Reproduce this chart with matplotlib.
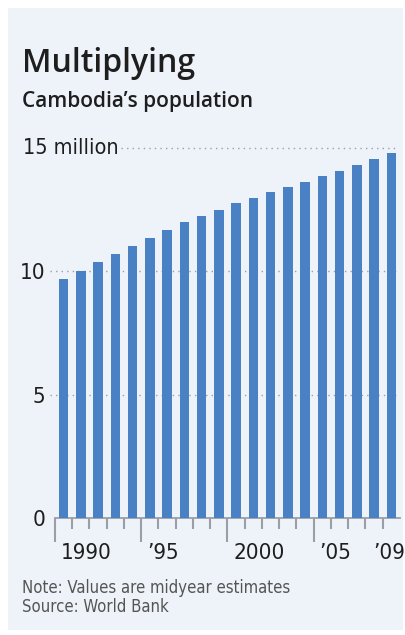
import matplotlib
matplotlib.use("Agg")
import matplotlib.pyplot as plt
from matplotlib.patches import Rectangle
from matplotlib.transforms import blended_transform_factory

# Cambodia's population, millions (midyear estimates)
years = list(range(1990, 2010))
population = [9.68, 10.03, 10.37, 10.70, 11.04, 11.37, 11.68, 11.99, 12.24, 12.50,
              12.76, 12.99, 13.22, 13.41, 13.63, 13.86, 14.08, 14.30, 14.54, 14.78]

y_ticks = [0, 5, 10]
y_ticklabels = ["0", "5", "10"]
x_labels = ["1990", "\u201995", "2000", "\u201905", "\u201909"]
x_label_years = [1990, 1995, 2000, 2005, 2009]

W, H = 406, 635
bg = "#eef3fa"
bar_color = "#4a80c4"
grid_color = "#9a9ea6"
text_color = "#1e1e1e"
narrow = dict(family=["DejaVu Sans"], stretch="condensed")
head = ["Open Sans", "DejaVu Sans"]


def fx(x):
    return x / W


def fy(y):
    return 1 - y / H


fig = plt.figure(figsize=(W / 100, H / 100), dpi=100)
fig.patch.set_facecolor("white")
fig.patches.append(Rectangle((fx(8), fy(630)), fx(395), (630 - 8) / H,
                             transform=fig.transFigure, facecolor=bg,
                             edgecolor="none", zorder=-5))

ax = fig.add_axes([fx(55), fy(518.3), fx(345), 370.3 / H])
ax.set_facecolor("none")
ax.bar(years, population, width=0.54, color=bar_color, zorder=3)
ax.set_xlim(1989.5, 2009.5)
ax.set_ylim(0, 15)

for s in ["top", "right", "left"]:
    ax.spines[s].set_visible(False)
ax.spines["bottom"].set_color(grid_color)
ax.spines["bottom"].set_linewidth(1.3)

# dotted gridlines
for v in [5, 10]:
    ax.axhline(v, xmin=-0.015, xmax=0.99, color=grid_color, lw=1.0,
               ls=(0, (1, 3)), zorder=1, clip_on=False)
ax.axhline(15, xmin=0.19, xmax=0.99, color=grid_color, lw=1.0,
           ls=(0, (1, 3)), zorder=1, clip_on=False)

ax.set_yticks(y_ticks)
ax.set_yticklabels(y_ticklabels, fontsize=16, color=text_color, **narrow)
ax.tick_params(axis="y", length=0, pad=7)
trans = blended_transform_factory(ax.transAxes, ax.transData)
ax.text(-0.093, 15, "15 million", transform=trans, ha="left", va="center",
        fontsize=15.5, color=text_color, **narrow)

# year-boundary ticks
major = [1989.5, 1994.5, 1999.5, 2004.5]
minor = [y + 0.5 for y in years[:-1] if y + 0.5 not in major]
ax.set_xticks(major)
ax.set_xticks(minor, minor=True)
ax.set_xticklabels([])
ax.tick_params(axis="x", which="major", length=17, width=1.5, color=grid_color)
ax.tick_params(axis="x", which="minor", length=8, width=1.5, color=grid_color)

for lab, yr in zip(x_labels, x_label_years):
    if yr == 2009:
        ax.text(yr - 0.15, -1.42, lab, ha="center", va="center",
                fontsize=16, color=text_color, **narrow)
    else:
        ax.text(yr - 0.5 + 0.33, -1.42, lab, ha="left", va="center",
                fontsize=16, color=text_color, **narrow)

fig.text(fx(22), fy(64), "Multiplying", family=head, fontsize=23,
         fontweight="semibold", color=text_color, va="center", ha="left")
fig.text(fx(22), fy(101), "Cambodia\u2019s population", family=head,
         fontsize=15, fontweight="semibold", color=text_color,
         va="center", ha="left")
fig.text(fx(22), fy(588), "Note: Values are midyear estimates",
         fontsize=12, color="#555555", va="center", ha="left", **narrow)
fig.text(fx(22), fy(607), "Source: World Bank",
         fontsize=12, color="#555555", va="center", ha="left", **narrow)

fig.savefig("out.png", dpi=100, facecolor=fig.get_facecolor())
